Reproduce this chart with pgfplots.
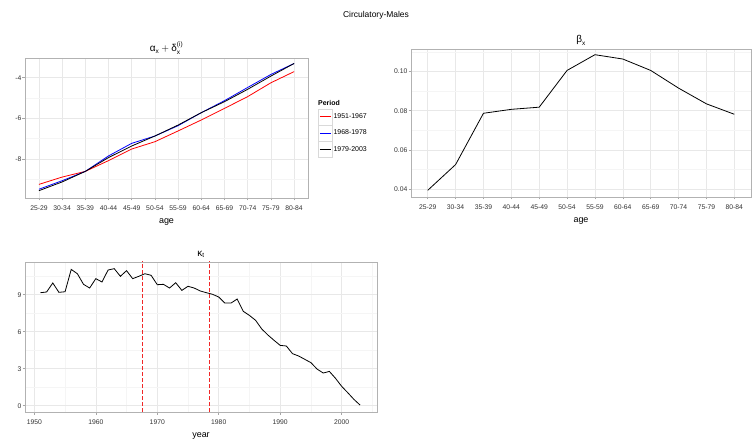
\documentclass[border=0pt]{standalone}
\usepackage{fontspec}
\setmainfont{Liberation Sans}
\usepackage{pgfplots}
\pgfplotsset{compat=1.18}

\definecolor{vline}{RGB}{240,40,40}
\newcommand{\sm}[1]{\mbox{\fontsize{6.5}{7}\selectfont #1}}

% ggplot theme_bw look
\pgfplotsset{
  ggbw/.style={
    scale only axis,
    axis line style={gray!60, line width=0.7bp},
    grid=both,
    major grid style={gray!18, line width=0.6bp},
    minor grid style={gray!8, line width=0.4bp},
    tick align=outside,
    xtick pos=left, ytick pos=left,
    major tick length=2.5bp,
    minor tick length=0pt,
    every tick/.style={gray!70, line width=0.5bp},
    tick label style={font=\fontsize{6.8}{7}\selectfont, text=black!80},
    xticklabel style={yshift=-1.5bp},
    yticklabel style={inner sep=1bp},
    label style={font=\fontsize{9}{10}\selectfont},
    xlabel style={yshift=-2bp},
    title style={font=\fontsize{10}{11}\selectfont, yshift=-5.5bp},
    /pgf/number format/assume math mode=true,
    every axis plot/.append style={line width=0.8bp, mark=none},
  },
  agex/.style={
    xmin=-0.6, xmax=11.6,
    xtick={0,...,11},
    xticklabels={25-29,30-34,35-39,40-44,45-49,50-54,55-59,60-64,65-69,70-74,75-79,80-84},
    xlabel={age},
  },
}

% alpha_x + delta_x^(i), one column per period
\pgfplotstableread{
i  p1     p2     p3
0  -9.25  -9.49  -9.56
1  -8.89  -9.07  -9.13
2  -8.61  -8.61  -8.61
3  -8.08  -7.85  -7.93
4  -7.51  -7.23  -7.36
5  -7.15  -6.87  -6.87
6  -6.62  -6.36  -6.33
7  -6.08  -5.72  -5.72
8  -5.51  -5.13  -5.18
9  -4.93  -4.48  -4.57
10 -4.25  -3.84  -3.92
11 -3.70  -3.30  -3.30
}\alphadelta

\pgfplotstableread{
i  beta
0  0.0395
1  0.0526
2  0.0787
3  0.0807
4  0.0818
5  0.1005
6  0.1085
7  0.1063
8  0.1005
9  0.0915
10 0.0835
11 0.0782
}\betax

\pgfplotstableread{
year kappa
1951 9.16
1952 9.22
1953 9.95
1954 9.19
1955 9.24
1956 11.05
1957 10.70
1958 9.84
1959 9.54
1960 10.30
1961 10.03
1962 11.00
1963 11.11
1964 10.49
1965 10.95
1966 10.30
1967 10.49
1968 10.70
1969 10.57
1970 9.81
1971 9.84
1972 9.54
1973 9.97
1974 9.35
1975 9.68
1976 9.54
1977 9.30
1978 9.16
1979 9.03
1980 8.81
1981 8.32
1982 8.32
1983 8.65
1984 7.65
1985 7.32
1986 6.92
1987 6.22
1988 5.73
1989 5.30
1990 4.89
1991 4.84
1992 4.22
1993 4.03
1994 3.76
1995 3.49
1996 2.97
1997 2.65
1998 2.78
1999 2.22
2000 1.57
2001 1.05
2002 0.51
2003 0.05
}\kappat

\begin{document}
\begin{tikzpicture}
\useasboundingbox (0,0) rectangle (752bp,441bp);
\node[font=\fontsize{8.5}{9}\selectfont] at (376bp,426bp) {Circulatory-Males};

% alpha_x + delta_x
\begin{axis}[ggbw, agex,
    at={(25bp,243bp)}, anchor=south west,
    width=283bp, height=140bp,
    ymin=-9.92, ymax=-3.03,
    ytick={-8,-6,-4},
    minor ytick={-9,-7,-5,-3},
    title={$\mbox{α}_{\sm{x}}+\mbox{δ}_{\sm{x}}^{\sm{(i)}}$},
    legend style={draw=none, fill=none, at={(1.035,0.64)}, anchor=north west,
      font=\fontsize{7}{8}\selectfont, row sep=0pt, inner sep=0pt,
      nodes={minimum height=16bp, inner sep=1bp}},
    legend cell align=left,
    legend image code/.code={
      \draw[gray!30, fill=white, line width=0.4bp] (0bp,-8bp) rectangle (14bp,8bp);
      \draw[#1] (1.5bp,0bp) -- (12.5bp,0bp);},
]
\addplot[red] table[x=i, y=p1] {\alphadelta};
\addplot[blue] table[x=i, y=p2] {\alphadelta};
\addplot[black] table[x=i, y=p3] {\alphadelta};
\legend{1951-1967, 1968-1978, 1979-2003}
\end{axis}
\node[anchor=south west, inner sep=0pt, font=\bfseries\fontsize{7}{8}\selectfont]
  at (318bp,335bp) {Period};

% beta_x
\begin{axis}[ggbw, agex,
    at={(411bp,244bp)}, anchor=south west,
    width=340bp, height=148bp,
    ymin=0.0361, ymax=0.1114,
    ytick={0.04,0.06,0.08,0.10},
    minor ytick={0.05,0.07,0.09,0.11},
    yticklabel style={/pgf/number format/.cd, fixed, fixed zerofill, precision=2},
    title={$\mbox{β}_{\sm{x}}$},
]
\addplot[black] table[x=i, y=beta] {\betax};
\end{axis}

% kappa_t
\begin{axis}[ggbw,
    at={(25bp,29bp)}, anchor=south west,
    width=352bp, height=150bp,
    xmin=1948.48, xmax=2005.75,
    ymin=-0.51, ymax=11.65,
    xtick={1950,1960,...,2000},
    minor xtick={1955,1965,...,2005},
    ytick={0,3,6,9},
    minor ytick={1.5,4.5,7.5,10.5},
    xticklabel style={/pgf/number format/set thousands separator={}},
    xlabel={year},
    title={$\mbox{κ}_{\sm{t}}$},
    unbounded coords=jump,
]
\addplot[black] table[x=year, y=kappa] {\kappat};
\addplot[vline, line width=0.7bp, dash pattern=on 4bp off 2bp] coordinates {
  (1967.5,-1) (1967.5,13) (1973,nan) (1978.5,-1) (1978.5,13)};
\end{axis}
\end{tikzpicture}
\end{document}
